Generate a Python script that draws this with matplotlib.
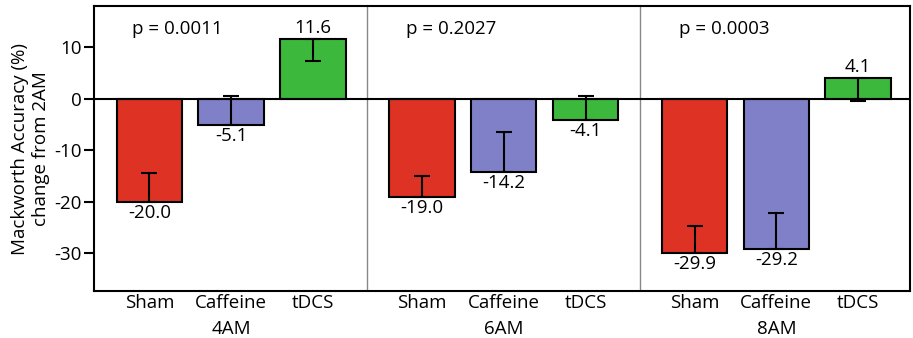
import numpy as np
import matplotlib.pyplot as plt
import matplotlib.transforms as mtransforms

plt.rcParams['font.family'] = ['Open Sans', 'DejaVu Sans']
plt.rcParams['axes.unicode_minus'] = False

# data
times = ['4AM', '6AM', '8AM']
conditions = ['Sham', 'Caffeine', 'tDCS']
p_values = ['p = 0.0011', 'p = 0.2027', 'p = 0.0003']
sham = [-20.0, -19.0, -29.9]
caffeine = [-5.1, -14.2, -29.2]
tdcs = [11.6, -4.1, 4.1]
sham_err = [5.7, 4.1, 5.3]
caffeine_err = [5.7, 7.7, 7.1]
tdcs_err = [4.2, 4.7, 4.5]

colors = ['#DD3224', '#8080C8', '#3CB93C']
gap = 10 / 3.0
fs = 13.5

fig = plt.figure(figsize=(9.13, 3.38), dpi=100)
ax = fig.add_axes([0.103, 0.139, 0.8937, 0.843])

values = [sham, caffeine, tdcs]
errors = [sham_err, caffeine_err, tdcs_err]
xticks = []
xlabels = []
for j in range(3):
    x = np.arange(3) * gap + j
    v = np.array(values[j])
    e = np.array(errors[j])
    # error bars only toward zero
    lower = np.where(v > 0, e, 0)
    upper = np.where(v < 0, e, 0)
    ax.bar(x, v, width=0.8, color=colors[j], edgecolor='black', linewidth=1.5, zorder=2)
    ax.errorbar(x, v, yerr=[lower, upper], fmt='none', ecolor='black',
                elinewidth=1.5, capsize=5.5, capthick=1.5, zorder=3)
    for xi, vi in zip(x, v):
        if vi < 0:
            ax.text(xi, vi - 0.4, f'{vi:.1f}', ha='center', va='top', fontsize=fs)
        else:
            ax.text(xi, vi + 0.4, f'{vi:.1f}', ha='center', va='bottom', fontsize=fs)
    xticks += list(x)
    xlabels += [conditions[j]] * 3

ax.axhline(0, color='black', linewidth=1.5, zorder=4)
for g in range(1, 3):
    ax.axvline(g * gap - (gap - 2) / 2, color='#888888', linewidth=1, zorder=1)

ax.set_xlim(-0.677, 2 * gap + 2 + 0.634)
ax.set_ylim(-37.3, 18.0)
ax.set_yticks([-30, -20, -10, 0, 10])
ax.set_xticks(xticks)
ax.set_xticklabels(xlabels, fontsize=fs)
ax.tick_params(axis='x', length=0, pad=2)
ax.tick_params(axis='y', length=7, width=1.5, labelsize=fs, pad=2)
for s in ax.spines.values():
    s.set_linewidth(1.5)

trans = mtransforms.blended_transform_factory(ax.transData, ax.transAxes)
for g in range(3):
    ax.text(g * gap + 1, -0.1, times[g], transform=trans, ha='center', va='top', fontsize=fs)
    left = -0.677 if g == 0 else g * gap - (gap - 2) / 2
    ax.text(left + 0.47, 13.6, p_values[g], ha='left', va='center', fontsize=fs)

ax.set_ylabel('Mackworth Accuracy (%)\nchange from 2AM', fontsize=fs, labelpad=3)

fig.savefig('out.png', dpi=100)
